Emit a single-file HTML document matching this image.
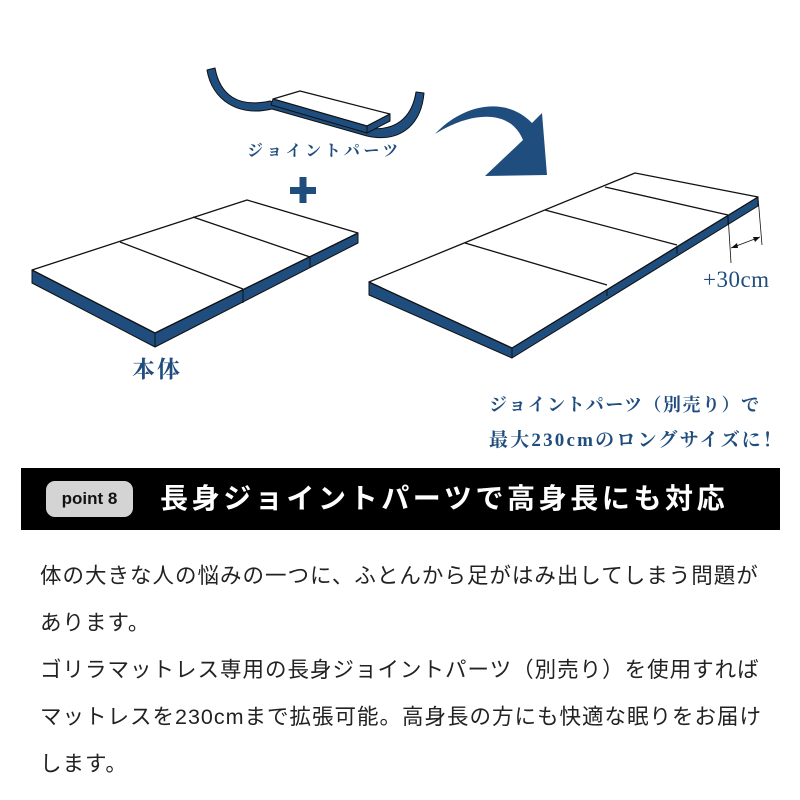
<!DOCTYPE html>
<html><head><meta charset="utf-8"><style>
body{margin:0;width:800px;height:800px;background:#fff;overflow:hidden;position:relative;font-family:"Liberation Sans","Noto Sans CJK JP",sans-serif}
.t{position:absolute;white-space:nowrap}
.serif{font-family:"Liberation Serif","Noto Serif CJK SC",serif;color:#1f4d7e}
</style></head><body>
<svg width="800" height="460" style="position:absolute;left:0;top:0" stroke-linejoin="round">
<path d="M215,68 C220,95 238,108 270,101 L367,128 C395,132 412,118 416,92 L424,93 C421,127 398,143 367,136 L272,109 C238,117 212,100 207,70 Z" fill="#1f4d7e" stroke="#111" stroke-width="1"/>
<polygon points="273,99 300,91 390,114 367,126" fill="#fff" stroke="#111" stroke-width="1.2"/>
<polygon points="273,99 367,126 367,133 271,105" fill="#1f4d7e" stroke="#111" stroke-width="1"/>
<polygon points="367,126 390,114 390,121 367,133" fill="#1f4d7e" stroke="#111" stroke-width="1"/>
<rect x="290" y="187" width="26" height="7" fill="#1f4d7e"/>
<rect x="299.5" y="177" width="7" height="26" fill="#1f4d7e"/>
<polygon points="32,270 155,333 155,347 32,283" fill="#1f4d7e" stroke="#111" stroke-width="1"/>
<polygon points="155,333 358,233 358,243 155,347" fill="#1f4d7e" stroke="#111" stroke-width="1"/>
<line x1="243" y1="289" x2="243" y2="303" stroke="#111"/>
<line x1="310" y1="257" x2="310" y2="267" stroke="#111"/>
<polygon points="32,270 247,200 358,233 155,333" fill="#fff" stroke="#111" stroke-width="1.3"/>
<line x1="120" y1="242" x2="243" y2="289" stroke="#111" stroke-width="1.3"/>
<line x1="193" y1="217" x2="310" y2="257" stroke="#111" stroke-width="1.3"/>
<path d="M435,134 C470,112 510,108 523,140 L485,176 L547,175 L542,113 L532,123 C505,95 462,105 435,134 Z" fill="#1f4d7e"/>
<polygon points="369,282 512,348 512,358 369,295" fill="#1f4d7e" stroke="#111" stroke-width="1"/>
<polygon points="512,348 758,197 758,206 512,358" fill="#1f4d7e" stroke="#111" stroke-width="1"/>
<line x1="607" y1="285" x2="607" y2="296" stroke="#111"/>
<line x1="677" y1="245" x2="677" y2="254" stroke="#111"/>
<line x1="728" y1="215" x2="728" y2="224" stroke="#111"/>
<polygon points="369,282 635,173 758,197 512,348" fill="#fff" stroke="#111" stroke-width="1.3"/>
<line x1="465" y1="243" x2="607" y2="285" stroke="#111" stroke-width="1.3"/>
<line x1="545" y1="210" x2="677" y2="245" stroke="#111" stroke-width="1.3"/>
<line x1="605" y1="187" x2="728" y2="215" stroke="#111" stroke-width="1.3"/>
<line x1="728" y1="215" x2="731" y2="263" stroke="#111" stroke-width="0.8"/>
<line x1="758" y1="197" x2="762" y2="245" stroke="#111" stroke-width="0.8"/>
<line x1="731" y1="248" x2="760" y2="237" stroke="#111" stroke-width="0.8"/>
<polygon points="731,248 737,243 738,248" fill="#111"/>
<polygon points="760,237 753,237 755,242" fill="#111"/>
</svg>
<div class="t serif" style="left:247px;top:138px;font-size:16px;letter-spacing:3.5px;font-weight:bold">ジョイントパーツ</div>
<div class="t serif" style="left:132px;top:351px;font-size:23px;font-weight:bold;letter-spacing:2px">本体</div>
<div class="t serif" style="left:703px;top:267px;font-size:23px;letter-spacing:0.5px">+30cm</div>
<div class="t serif" style="left:489px;top:391px;font-size:18px;font-weight:bold;letter-spacing:1.5px">ジョイントパーツ（別売り）で</div>
<div class="t serif" style="left:489px;top:425px;font-size:19px;font-weight:bold;letter-spacing:2.2px">最大230cmのロングサイズに！</div>
<div style="position:absolute;left:21px;top:468px;width:759px;height:62px;background:#000"></div>
<div class="t" style="left:46px;top:481px;width:87px;height:36px;background:#d4d4d4;border-radius:9px;font-size:17px;font-weight:bold;line-height:36px;text-align:center;color:#111">point 8</div>
<div class="t" style="left:160px;top:479px;font-size:28px;font-weight:bold;color:#fff;letter-spacing:3.6px;line-height:40px">長身ジョイントパーツで高身長にも対応</div>
<div class="t" style="left:40px;top:553px;font-size:21.5px;line-height:47px;color:#222;letter-spacing:1px">体の大きな人の悩みの一つに、ふとんから足がはみ出してしまう問題が<br>あります。<br>ゴリラマットレス専用の長身ジョイントパーツ（別売り）を使用すれば<br>マットレスを230cmまで拡張可能。高身長の方にも快適な眠りをお届け<br>します。</div>
</body></html>
